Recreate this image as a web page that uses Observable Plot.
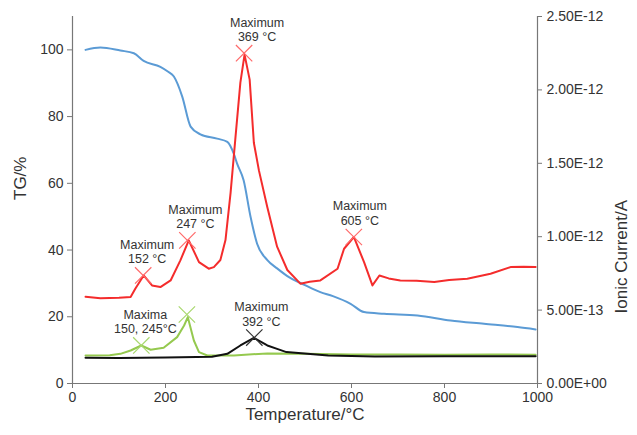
<!DOCTYPE html>
<html><head><meta charset="utf-8">
<script src="https://cdn.jsdelivr.net/npm/d3@7"></script>
<script src="https://cdn.jsdelivr.net/npm/@observablehq/plot@0.6"></script>
<style>body{margin:0;background:#fff;} svg{display:block;}</style>
</head><body><div id="chart"></div>
<script>
// TG (%) vs temperature (°C)
const tgT = [28,60,103,132,153,189,205,218,236,254,275,311,333,347,354,368,383,397,419,440,462,500,533,560,598,627,670,742,813,885,957,996];
const tgV = [100.0,100.7,99.8,99.0,96.7,94.9,93.5,92.0,86.0,77.0,74.7,73.4,72.4,68.8,65.9,60.9,49.9,41.9,37.0,34.5,32.2,29.5,27.4,26.2,23.9,21.4,20.9,20.4,18.9,17.9,16.9,16.2];
// Ionic currents (A)
const redT = [28,60,100,125,135,153,171,189,211,232,250,272,293,304,318,329,340,350,361,370,381,390,401,419,440,462,490,510,533,570,584,605,627,645,660,680,705,740,778,810,849,899,942,970,996];
const redA = [5.91e-13,5.80e-13,5.84e-13,5.89e-13,6.45e-13,7.36e-13,6.68e-13,6.57e-13,7.02e-13,8.39e-13,9.75e-13,8.27e-13,7.82e-13,7.93e-13,8.41e-13,9.77e-13,1.30e-12,1.66e-12,2.05e-12,2.24e-12,2.07e-12,1.64e-12,1.45e-12,1.20e-12,9.32e-13,7.73e-13,6.80e-13,6.93e-13,7.02e-13,7.82e-13,9.18e-13,9.98e-13,8.27e-13,6.68e-13,7.36e-13,7.16e-13,7.02e-13,7.00e-13,6.91e-13,7.05e-13,7.14e-13,7.48e-13,7.93e-13,7.95e-13,7.93e-13];
const greenT = [28,80,103,125,148,168,196,225,240,248,261,272,290,347,419,500,600,700,800,900,996];
const greenA = [1.91e-13,1.93e-13,2.02e-13,2.25e-13,2.59e-13,2.30e-13,2.43e-13,3.16e-13,3.95e-13,4.52e-13,2.93e-13,2.14e-13,1.91e-13,1.91e-13,2.05e-13,2.02e-13,1.98e-13,1.98e-13,1.95e-13,1.98e-13,1.95e-13];
const blackT = [28,100,200,300,333,361,390,419,440,460,505,550,650,800,996];
const blackA = [1.75e-13,1.73e-13,1.77e-13,1.82e-13,2.02e-13,2.59e-13,3.11e-13,2.59e-13,2.36e-13,2.14e-13,2.02e-13,1.91e-13,1.84e-13,1.86e-13,1.86e-13];
// Peak annotations
const peakSeries = ["red","red","red","red","green","green","black"];
const peakT = [152,247,369,605,148,246,391];
const peakA = [7.36e-13,9.75e-13,2.25e-12,9.98e-13,2.59e-13,4.70e-13,3.13e-13];
const peakLabel = ["Maximum\n152 °C","Maximum\n247 °C","Maximum\n369 °C","Maximum\n605 °C","Maxima\n150, 245°C","","Maximum\n392 °C"];
const labelDx = [4,8,13,6,4,0,7];
// Axis ticks
const xTicks = [0,200,400,600,800,1000];
const tgTicks = [0,20,40,60,80,100];
const ionTicks = [0,5e-13,1e-12,1.5e-12,2e-12,2.5e-12];

const tgMax = 110, ionMax = 2.5e-12, k = tgMax / ionMax;
const zip = (xs, ys) => xs.map((x, i) => ({x, y: ys[i]}));
const tg = zip(tgT, tgV), red = zip(redT, redA), green = zip(greenT, greenA), black = zip(blackT, blackA);
const peaks = peakT.map((t, i) => ({x: t, y: peakA[i], s: peakSeries[i], label: peakLabel[i], dx: labelDx[i]}));
const col = {red: "#f42c2c", green: "#95c94f", black: "#111111", blue: "#5b9bd5"};
const mcol = {red: "#ff6a6a", green: "#a9d86e", black: "#333333"};
const fmtE = v => { const [m, e] = v.toExponential(2).split("e"); const sign = e[0]; const d = e.slice(1).padStart(2, "0"); return m + "E" + sign + d; };
const font = "Liberation Sans, Arial, sans-serif";

const chart = Plot.plot({
  width: 637, height: 435,
  marginLeft: 72, marginRight: 100, marginTop: 16, marginBottom: 52,
  style: {fontFamily: font, color: "#333", background: "#fff"},
  x: {domain: [0, 1000]},
  y: {domain: [0, tgMax]},
  marks: [
    Plot.axisX({ticks: xTicks, tickFormat: d3.format("d"), tickSize: 5, tickPadding: 4, fontSize: 14, label: null, stroke: "#777"}),
    Plot.axisY({ticks: tgTicks, tickSize: 5, tickPadding: 4, fontSize: 14, label: null, stroke: "#777"}),
    Plot.axisY({anchor: "right", ticks: ionTicks.map(v => v * k), tickFormat: v => fmtE(v / k), tickSize: 4, tickPadding: 5, fontSize: 14, label: null, stroke: "#777"}),
    Plot.ruleX([0, 1000], {y1: 0, y2: tgMax, stroke: "#777", strokeWidth: 1.2}),
    Plot.ruleY([0], {stroke: "#777", strokeWidth: 1.2}),
    Plot.line(tg, {x: "x", y: "y", stroke: col.blue, strokeWidth: 2, curve: "monotone-x"}),
    Plot.line(green, {x: "x", y: d => d.y * k, stroke: col.green, strokeWidth: 2}),
    Plot.line(black, {x: "x", y: d => d.y * k, stroke: col.black, strokeWidth: 2}),
    Plot.line(red, {x: "x", y: d => d.y * k, stroke: col.red, strokeWidth: 2}),
    Plot.dot(peaks, {x: "x", y: d => d.y * k, symbol: "times", r: 7.5, stroke: d => mcol[d.s], strokeWidth: 1.2}),
    ...peaks.filter(d => d.label).map(d => Plot.text([d], {x: "x", y: p => p.y * k, text: "label", dx: d.dx, dy: -12, lineAnchor: "bottom", fontSize: 12.5, fill: "#333", lineHeight: 1.16})),
    Plot.text(["Temperature/°C"], {frameAnchor: "bottom", dy: 36, fontSize: 17, fill: "#333"}),
    Plot.text(["TG/%"], {frameAnchor: "left", dx: -52, rotate: -90, fontSize: 17, fill: "#333"}),
    Plot.text(["Ionic Current/A"], {frameAnchor: "right", dx: 84, rotate: -90, fontSize: 17, fill: "#333"})
  ]
});
document.getElementById("chart").appendChild(chart);
</script></body></html>
